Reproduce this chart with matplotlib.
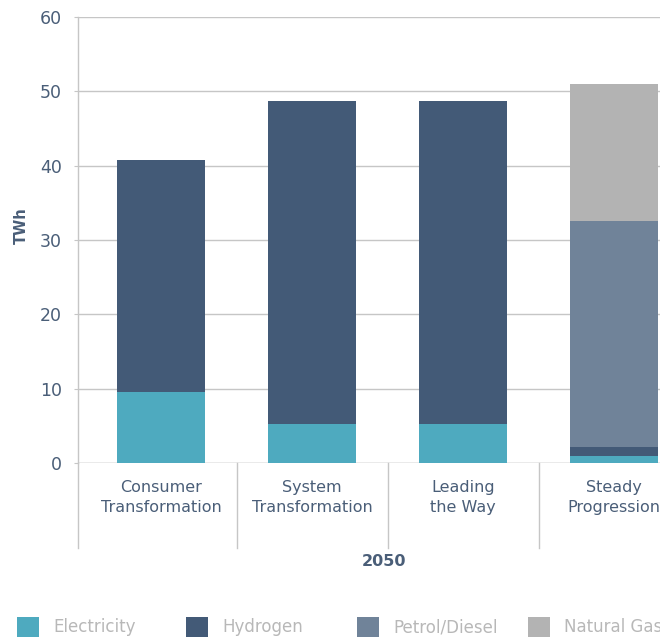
import matplotlib
matplotlib.use("Agg")
import matplotlib.pyplot as plt
import numpy as np
from matplotlib.patches import Rectangle
from matplotlib.transforms import blended_transform_factory

plt.rcParams['font.family'] = ['DejaVu Sans']

categories = ["Consumer\nTransformation", "System\nTransformation", "Leading\nthe Way", "Steady\nProgression"]
series_names = ["Electricity", "Hydrogen", "Petrol/Diesel", "Natural Gas"]
electricity = [9.6, 5.3, 5.3, 1.0]
hydrogen = [31.2, 43.4, 43.4, 1.2]
petrol_diesel = [0.0, 0.0, 0.0, 30.4]
natural_gas = [0.0, 0.0, 0.0, 18.4]
group_label = "2050"
y_ticks = [0, 10, 20, 30, 40, 50, 60]
y_label = "TWh"

colors = ["#4eaabf", "#435a77", "#708399", "#b3b3b3"]
text_col = "#4a5e78"
grid_col = "#c6c6c6"

fig = plt.figure(figsize=(6.6, 6.37), dpi=100)
ax = fig.add_axes([78/660, (637-463)/637, 611.5/660, 446/637])

x = np.arange(len(categories))
bottom = np.zeros(len(categories))
for vals, c in zip([electricity, hydrogen, petrol_diesel, natural_gas], colors):
    ax.bar(x, vals, width=0.58, bottom=bottom, color=c, zorder=3, linewidth=0)
    bottom += np.array(vals)

ax.set_xlim(-0.55, 3.5)
ax.set_ylim(0, 60)
ax.set_yticks(y_ticks)
ax.set_yticklabels([str(t) for t in y_ticks])
ax.yaxis.grid(True, color=grid_col, linewidth=1.0, zorder=0)
ax.tick_params(axis='y', length=3, color=grid_col, labelsize=12.5, labelcolor=text_col, pad=8.5)
ax.tick_params(axis='x', length=0, labelbottom=False)
for s in ["top", "right", "bottom"]:
    ax.spines[s].set_visible(False)
ax.spines["left"].set_color(grid_col)
ax.spines["left"].set_linewidth(1.0)

ax.axhline(0, color=grid_col, linewidth=1.0, zorder=2)

trans = blended_transform_factory(ax.transData, ax.transAxes)
ext = -(548-463)/446
seps = [-0.55] + [i + 0.5 for i in range(len(categories) - 1)]
for s in seps:
    ax.plot([s, s], [0, ext], transform=trans, color=grid_col, linewidth=1.0, clip_on=False)

for i, lab in enumerate(categories):
    ax.text(i, -(480-463)/446, lab, transform=trans, ha='center', va='top',
            fontsize=11.5, color=text_col, linespacing=1.45)

ax.text(1.475, -(562-463)/446, group_label, transform=trans, ha='center', va='center',
        fontsize=11.5, fontweight='bold', color=text_col)

fig.text(21.5/660, (637-226)/637, y_label, rotation=90, ha='center', va='center',
         fontsize=10.5, fontweight='bold', color=text_col)

leg_x = [17, 186, 357, 528]
for lx, name, c in zip(leg_x, series_names, colors):
    fig.patches.append(Rectangle((lx/660, 0.0), 22/660, 20/637, transform=fig.transFigure,
                                 facecolor=c, edgecolor='none'))
    fig.text((lx + 36)/660, (637-627)/637, name, ha='left', va='center',
             fontsize=12, color="#b8b8b8")

fig.savefig("out.png", dpi=100)
